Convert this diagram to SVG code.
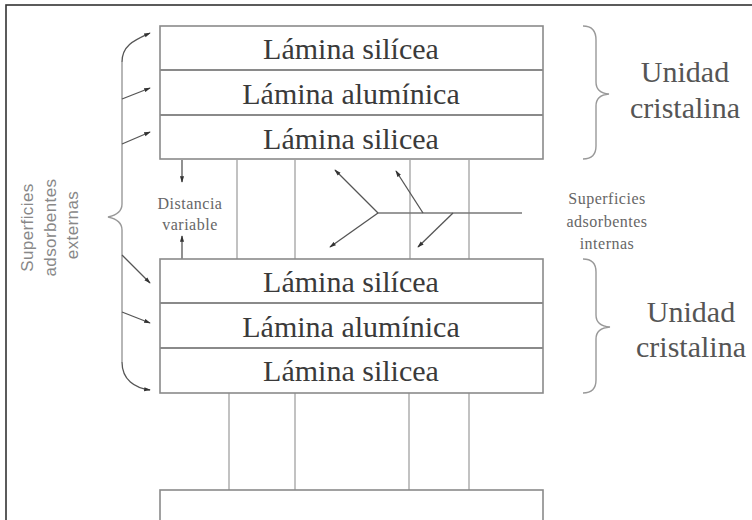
<svg xmlns="http://www.w3.org/2000/svg" width="752" height="520" viewBox="0 0 752 520">
<defs>
<marker id="ah" viewBox="0 0 8 6" refX="7" refY="3" markerWidth="7" markerHeight="5" markerUnits="userSpaceOnUse" orient="auto-start-reverse">
<path d="M0,0.5 L8,3 L0,5.5 Z" fill="#333"/>
</marker>
<style>
.box{fill:#fff;stroke:#8a8a8a;stroke-width:1.6}
.div{stroke:#8a8a8a;stroke-width:1.8}
.vl{stroke:#a8a8a8;stroke-width:1.4}
.lam{font-family:"Liberation Serif",serif;font-size:30px;fill:#3a3a3a;text-anchor:middle}
.uni{font-family:"Liberation Serif",serif;font-size:30px;fill:#555;text-anchor:middle}
.sm{font-family:"Liberation Serif",serif;font-size:16px;letter-spacing:0.5px;fill:#666;text-anchor:middle}
.ss{font-family:"Liberation Sans",sans-serif;font-size:17px;letter-spacing:0.4px;fill:#888;text-anchor:middle}
.ln{fill:none;stroke:#777;stroke-width:1.3}
.ar{fill:none;stroke:#555;stroke-width:1.3;marker-end:url(#ah)}
.br{fill:none;stroke:#999;stroke-width:1.4}
</style>
</defs>
<rect x="6" y="5" width="800" height="600" fill="#fff" stroke="#333" stroke-width="1.6"/>

<g id="connectors">
<line class="vl" x1="237" y1="160" x2="237" y2="259"/>
<line class="vl" x1="295" y1="160" x2="295" y2="259"/>
<line class="vl" x1="410" y1="160" x2="410" y2="259"/>
<line class="vl" x1="469" y1="160" x2="469" y2="259"/>
<line class="vl" x1="229" y1="393" x2="229" y2="490"/>
<line class="vl" x1="295" y1="393" x2="295" y2="490"/>
<line class="vl" x1="409" y1="393" x2="409" y2="490"/>
<line class="vl" x1="469" y1="393" x2="469" y2="490"/>
<line class="ln" x1="378" y1="213" x2="522" y2="213"/>
<line class="ar" x1="378" y1="213" x2="335" y2="170"/>
<line class="ar" x1="378" y1="213" x2="330" y2="247"/>
<line class="ar" x1="423" y1="213" x2="396" y2="171"/>
<line class="ar" x1="453" y1="213" x2="418" y2="247"/>
<line class="ar" x1="182" y1="160" x2="182" y2="182"/>
<line class="ar" x1="182" y1="259" x2="182" y2="236"/>
<path class="ar" d="M122,62 C122,45 135,40 150,33"/>
<path class="ar" d="M122,362 C122,380 135,388 150,390"/>
<path class="br" d="M122,62 L122,204 Q122,214 108,217 Q122,220 122,230 L122,362"/>
<line class="ar" x1="122" y1="99" x2="150" y2="88"/>
<line class="ar" x1="122" y1="144" x2="150" y2="132"/>
<line class="ar" x1="122" y1="255" x2="150" y2="283"/>
<line class="ar" x1="122" y1="312" x2="150" y2="323"/>
<path class="br" d="M583,26 Q596,26 596,40 L596,82 Q596,93 609,94 Q596,95 596,106 L596,146 Q596,159 583,159"/>
<path class="br" d="M583,259 Q596,259 596,272 L596,315 Q596,326 610,327 Q596,328 596,339 L596,380 Q596,393 583,393"/>
</g>

<g id="unit1">
<rect class="box" x="160" y="26" width="383" height="133"/>
<line class="div" x1="160" y1="70" x2="543" y2="70"/>
<line class="div" x1="160" y1="115" x2="543" y2="115"/>
<text class="lam" x="351" y="59">Lámina silícea</text>
<text class="lam" x="351" y="104">Lámina alumínica</text>
<text class="lam" x="351" y="149">Lámina silicea</text>
</g>

<g id="unit2">
<rect class="box" x="160" y="259" width="383" height="134"/>
<line class="div" x1="160" y1="303" x2="543" y2="303"/>
<line class="div" x1="160" y1="348" x2="543" y2="348"/>
<text class="lam" x="351" y="292">Lámina silícea</text>
<text class="lam" x="351" y="337">Lámina alumínica</text>
<text class="lam" x="351" y="381">Lámina silicea</text>
</g>

<g id="unit3">
<rect class="box" x="160" y="490" width="383" height="60"/>
</g>

<g id="label-unidad1">
<text class="uni" x="685" y="82">Unidad</text>
<text class="uni" x="685" y="118">cristalina</text>
</g>
<g id="label-unidad2">
<text class="uni" x="691" y="322">Unidad</text>
<text class="uni" x="691" y="357">cristalina</text>
</g>

<g id="label-distancia">
<text class="sm" x="190" y="209">Distancia</text>
<text class="sm" x="190" y="230">variable</text>
</g>

<g id="label-internas">
<text class="sm" x="607" y="204">Superficies</text>
<text class="sm" x="607" y="227">adsorbentes</text>
<text class="sm" x="607" y="249">internas</text>
</g>

<g id="label-externas">
<text class="ss" transform="translate(33,225) rotate(-90)">
<tspan x="0" y="0">Superficies</tspan>
<tspan x="0" y="23">adsorbentes</tspan>
<tspan x="0" y="45">externas</tspan>
</text>
</g>
</svg>
